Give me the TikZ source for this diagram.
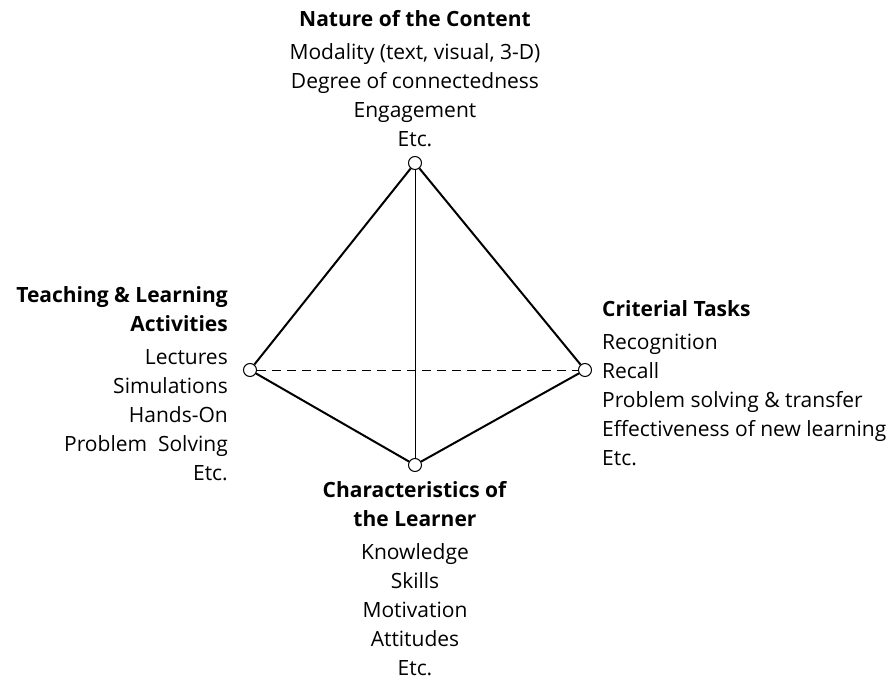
\documentclass[tikz,border=0pt]{standalone}
\usepackage{fontspec}
\setmainfont{Open Sans}
\usetikzlibrary{positioning}

\tikzset{
  vertex/.style={draw, circle, fill=white, inner sep=0pt, minimum size=13pt, line width=1pt},
  edge/.style={line width=2pt},
  label/.style={font=\fontsize{21}{29}\selectfont, inner sep=0pt},
}

\begin{document}
\begin{tikzpicture}[x=1pt, y=-1pt]
  \useasboundingbox (0,0) rectangle (895,682);

  % corners of the tetrahedron
  \node[vertex] (top) at (415,163) {};
  \node[vertex] (left) at (250,370) {};
  \node[vertex] (right) at (585,370) {};
  \node[vertex] (bottom) at (415,465) {};

  \draw[edge] (top) -- (left);
  \draw[edge] (top) -- (right);
  \draw[edge] (left) -- (bottom);
  \draw[edge] (right) -- (bottom);
  \draw[line width=1pt] (top) -- (bottom);
  \draw[line width=1pt, dash pattern=on 9pt off 6pt] (left) -- (right);

  % texts
  \node[label, align=center, anchor=north] (content) at (415,10)
    {\textbf{Nature of the Content}\\[4pt]
     Modality (text, visual, 3-D)\\
     Degree of connectedness\\
     Engagement\\
     Etc.};
  \node[label, align=right, anchor=north east] (activities) at (228,286)
    {\textbf{Teaching \& Learning}\\
     \textbf{Activities}\\[4pt]
     Lectures\\
     Simulations\\
     Hands-On\\
     Problem\ \ Solving\\
     Etc.};
  \node[label, align=left, anchor=north west] (tasks) at (602,300)
    {\textbf{Criterial Tasks}\\[4pt]
     Recognition\\
     Recall\\
     Problem solving \& transfer\\
     Effectiveness of new learning\\
     Etc.};
  \node[label, align=center, anchor=north] (learner) at (415,481)
    {\textbf{Characteristics of}\\
     \textbf{the Learner}\\[4pt]
     Knowledge\\
     Skills\\
     Motivation\\
     Attitudes\\
     Etc.};
\end{tikzpicture}
\end{document}
